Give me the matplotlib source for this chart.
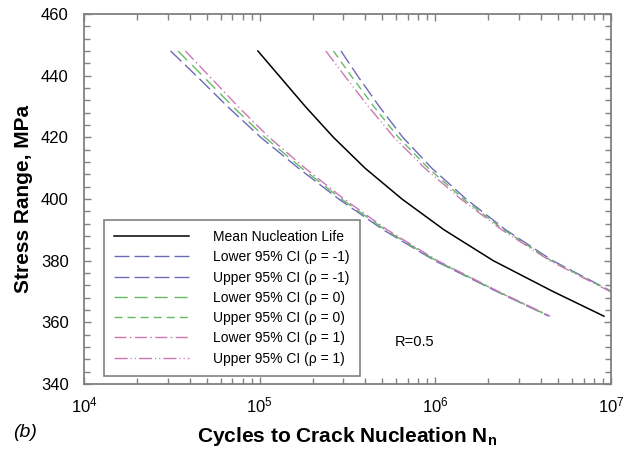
import numpy as np
import matplotlib.pyplot as plt
from matplotlib.ticker import MultipleLocator, LogLocator, NullFormatter

plt.rcParams['font.family'] = 'Liberation Sans'
plt.rcParams['mathtext.fontset'] = 'custom'
plt.rcParams['mathtext.rm'] = 'Liberation Sans'
plt.rcParams['mathtext.it'] = 'Liberation Sans:italic'
plt.rcParams['mathtext.bf'] = 'Liberation Sans:bold'

# stress levels (MPa) and log10 of cycles to nucleation
stress = [448, 440, 430, 420, 410, 400, 390, 380, 370, 362]
stress_up = [448, 440, 430, 420, 410, 400, 390, 380, 370]

logn_mean = [4.990, 5.110, 5.260, 5.420, 5.600, 5.810, 6.050, 6.330, 6.670, 6.960]

logn_lo_m1 = [4.493, 4.639, 4.817, 5.006, 5.221, 5.450, 5.704, 5.997, 6.350, 6.646]
logn_lo_0 = [4.535, 4.675, 4.847, 5.030, 5.240, 5.465, 5.715, 6.005, 6.355, 6.650]
logn_lo_p1 = [4.577, 4.711, 4.877, 5.054, 5.259, 5.480, 5.726, 6.013, 6.360, 6.654]

logn_up_m1 = [5.463, 5.557, 5.681, 5.815, 5.980, 6.175, 6.401, 6.668, 7.005]
logn_up_0 = [5.420, 5.520, 5.650, 5.790, 5.960, 6.160, 6.390, 6.660, 7.000]
logn_up_p1 = [5.377, 5.483, 5.619, 5.765, 5.940, 6.145, 6.379, 6.652, 6.995]

blue = '#6b6bb8'
green = '#66bb66'
pink = '#cc78b4'
gray = '#808080'

fig = plt.figure(figsize=(6.33, 4.53), dpi=100)
ax = fig.add_axes([0.1327, 0.1523, 0.8325, 0.8168])

ax.plot(10**np.array(logn_mean), stress, color='k', lw=1.1,
        label='Mean Nucleation Life')
ax.plot(10**np.array(logn_lo_m1), stress, color=blue, lw=1.0,
        dashes=(10.8, 3.6), label='Lower 95% CI (ρ = -1)')
ax.plot(10**np.array(logn_up_m1), stress_up, color=blue, lw=1.0,
        dashes=(10.8, 3.6), label='Upper 95% CI (ρ = -1)')
ax.plot(10**np.array(logn_lo_0), stress, color=green, lw=1.0,
        dashes=(9.4, 5.0), label='Lower 95% CI (ρ = 0)')
ax.plot(10**np.array(logn_up_0), stress_up, color=green, lw=1.0,
        dashes=(5.8, 3.6), label='Upper 95% CI (ρ = 0)')
ax.plot(10**np.array(logn_lo_p1), stress, color=pink, lw=1.0,
        dashes=(8.6, 2.5, 1.1, 2.5), label='Lower 95% CI (ρ = 1)')
ax.plot(10**np.array(logn_up_p1), stress_up, color=pink, lw=1.0,
        dashes=(9.4, 2.2, 0.8, 2.2, 0.8, 2.2), label='Upper 95% CI (ρ = 1)')

ax.set_xscale('log')
ax.set_xlim(1e4, 1e7)
ax.set_ylim(340, 460)
ax.xaxis.set_major_locator(LogLocator(base=10))
ax.xaxis.set_minor_locator(LogLocator(base=10, subs=np.arange(2, 10)))
ax.xaxis.set_minor_formatter(NullFormatter())
ax.yaxis.set_major_locator(MultipleLocator(20))
ax.yaxis.set_minor_locator(MultipleLocator(4))

ax.tick_params(which='both', direction='in', top=True, right=True,
               color=gray, width=1.0)
ax.tick_params(which='major', length=5, labelsize=12)
ax.tick_params(which='minor', length=4)
ax.tick_params(axis='y', pad=11)
ax.tick_params(axis='x', pad=8)
for s in ax.spines.values():
    s.set_color(gray)
    s.set_linewidth(1.3)

ax.set_xlabel('Cycles to Crack Nucleation N$_\\mathbf{n}$', fontsize=15,
              fontweight='bold', labelpad=7)
ax.set_ylabel('Stress Range, MPa', fontsize=15, fontweight='bold', labelpad=6)
fig.text(0.02, 0.035, '(b)', fontsize=14, style='italic')

ax.text(5.9e5, 353.6, 'R=0.5', fontsize=10.5, va='center')

leg = ax.legend(loc='lower left', bbox_to_anchor=(0.038, 0.0216),
                borderaxespad=0, fontsize=10, handlelength=5.4,
                handletextpad=1.7, labelspacing=0.45, borderpad=0.75,
                fancybox=False, framealpha=1, edgecolor=gray)
leg.get_frame().set_linewidth(1.2)

fig.savefig('out.png', dpi=100)
